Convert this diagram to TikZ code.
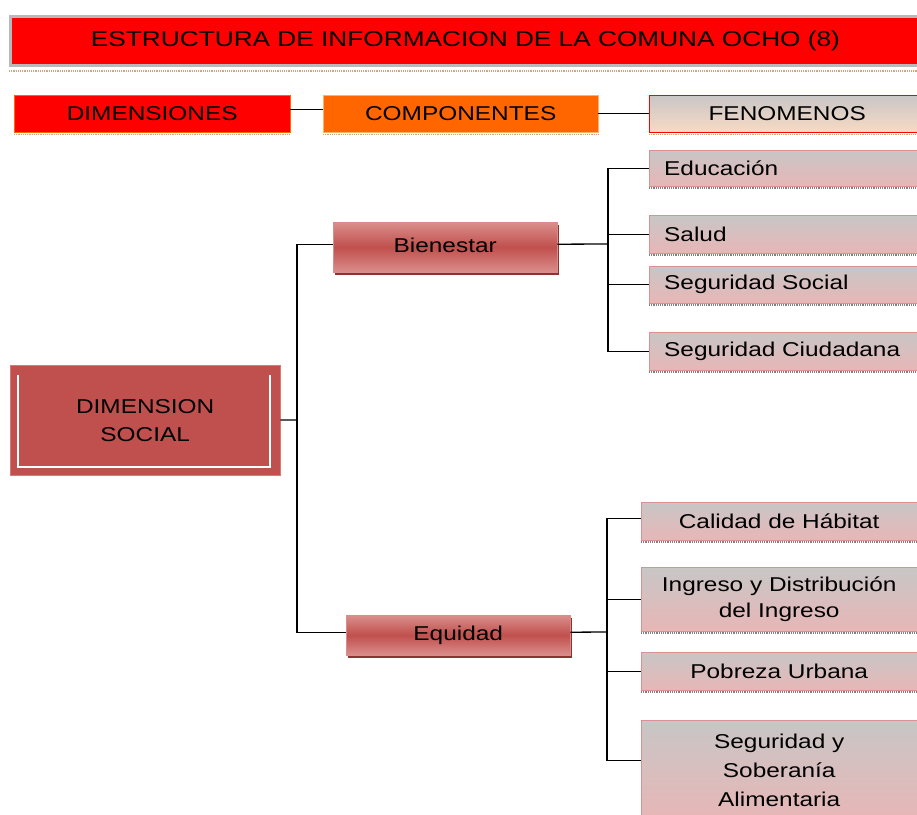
\documentclass[tikz,border=0pt]{standalone}
\usepackage{fontspec}
\setmainfont{Liberation Sans}[FakeStretch=1.22]
\usetikzlibrary{shadows}
\definecolor{hdrred}{HTML}{FF0000}
\definecolor{hdrorange}{HTML}{FF6600}
\definecolor{feltop}{HTML}{C8C6C6}
\definecolor{felbot}{HTML}{E8B6B6}
\definecolor{felline}{HTML}{D89292}
\definecolor{peach}{HTML}{F8DAC4}
\definecolor{bienmd}{HTML}{C0504D}
\definecolor{bienlt}{HTML}{DA8E8C}
\definecolor{bienshd}{HTML}{8A3432}
\definecolor{dsline}{HTML}{D47A78}

\begin{document}
\begin{tikzpicture}[x=1pt,y=-1pt,font=\fontsize{20}{28}\selectfont]
\tikzstyle{box}=[rectangle,anchor=north west,inner sep=0]
\tikzstyle{hdr}=[box,minimum height=37]
\tikzstyle{fen}=[box,draw=felline,top color=feltop,bottom color=felbot,minimum width=276]
\tikzstyle{fenl}=[fen,inner xsep=15,text width=253,align=left]
\tikzstyle{comp}=[box,draw=bienlt,top color=bienlt,bottom color=bienlt,middle color=bienmd,minimum width=224,
  drop shadow={shadow xshift=2pt,shadow yshift=-3pt,fill=bienshd,opacity=1}]
\tikzstyle{con}=[black,line width=1.3]
\tikzstyle{rule}=[densely dotted,line width=1.2]

    \useasboundingbox (0,0) rectangle (917,814);
    \clip (0,0) rectangle (917,814);

    % titulo y encabezados
    \node[box,fill=hdrred,draw=gray!55,line width=3,minimum width=910,minimum height=49,
        font=\fontsize{21.5}{26}\selectfont] (title) at (9,15)
        {ESTRUCTURA DE INFORMACION DE LA COMUNA OCHO (8)};
    \draw[rule,brown!70] ([yshift=-4pt]title.south west) -- ([yshift=-4pt]title.south east);

    \node[hdr,fill=hdrred,draw=orange!80!red,minimum width=276] (dim) at (14,95){DIMENSIONES};
    \node[hdr,fill=hdrorange,draw=orange!60,minimum width=275] (comp) at (323,95){COMPONENTES};
    \node[hdr,draw=hdrred,top color=feltop,bottom color=peach,minimum width=276] (fen) at (649,95){FENOMENOS};
    \draw[rule,brown!70] ([yshift=-2pt]dim.south west) -- ([yshift=-2pt]dim.south east);
    \draw[rule,brown!70] ([yshift=-2pt]comp.south west) -- ([yshift=-2pt]comp.south east);
    \draw[rule,brown!70] ([yshift=-2pt]fen.south west) -- ([yshift=-2pt]fen.south east);

    \draw[con] ([yshift=4pt]dim.east) -- ([yshift=4pt]comp.west);
    \draw[con] (comp) -- (fen);

    % dimension
    \node[box,fill=bienmd,draw=dsline,minimum width=270,minimum height=110,align=center] (ds) at (10,365)
        {DIMENSION\\SOCIAL};
    \draw[white,line width=2] ([xshift=8pt,yshift=-10pt]ds.north west) |- ([xshift=-10pt,yshift=8pt]ds.south east)
        -- ([xshift=-10pt,yshift=-10pt]ds.north east);

    % componentes
    \node[comp,minimum height=50] (bien) at (333,222){\raisebox{4pt}{Bienestar}};
    \node[comp,minimum height=40] (equi) at (346,615){Equidad};

    % fenomenos
    \node[fenl,minimum height=36] (edu) at (649,150){Educación};
    \node[fenl,minimum height=38] (sal) at (649,215){Salud};
    \node[fenl,minimum height=37] (segs) at (649,266){Seguridad Social};
    \node[fenl,minimum height=38] (segc) at (649,332){Seguridad Ciudadana};

    \node[fen,minimum height=38] (cal) at (641,502){Calidad de Hábitat};
    \node[fen,minimum height=64,align=center,font=\fontsize{20}{26}\selectfont] (ing) at (641,567)
        {Ingreso y Distribución\\del Ingreso};
    \node[fen,minimum height=38] (pob) at (641,652){Pobreza Urbana};
    \node[fen,minimum height=100,align=center,font=\fontsize{20}{29}\selectfont] (sob) at (641,720)
        {Seguridad y\\Soberanía\\Alimentaria};

    \foreach \n in {edu,sal,segs,segc,cal,ing,pob}
        \draw[rule,gray] ([yshift=-1.5pt]\n.south west) -- ([yshift=-1.5pt]\n.south east);

    % conectores
    \coordinate (b0) at (297,420);
    \coordinate (b1) at (608,244);
    \coordinate (b2) at (607,632);

    \draw[con] (ds) -- (b0);
    \draw[con] (b0) |- ([yshift=3pt]bien.west);
    \draw[con] (b0) |- ([yshift=3pt]equi.west);

    \draw[con] ([yshift=3pt]bien.east) -- (b1);
    \draw[con] (b1) |- (edu);
    \draw[con] (b1) |- (sal);
    \draw[con] (b1) |- (segs);
    \draw[con] (b1) |- (segc);

    \draw[con] ([yshift=3pt]equi.east) -- (b2);
    \draw[con] (b2) |- ([yshift=3pt]cal.west);
    \draw[con] (b2) |- (ing);
    \draw[con] (b2) |- (pob);
    \draw[con] (b2) |- ([yshift=10pt]sob.west);

\end{tikzpicture}
\end{document}
